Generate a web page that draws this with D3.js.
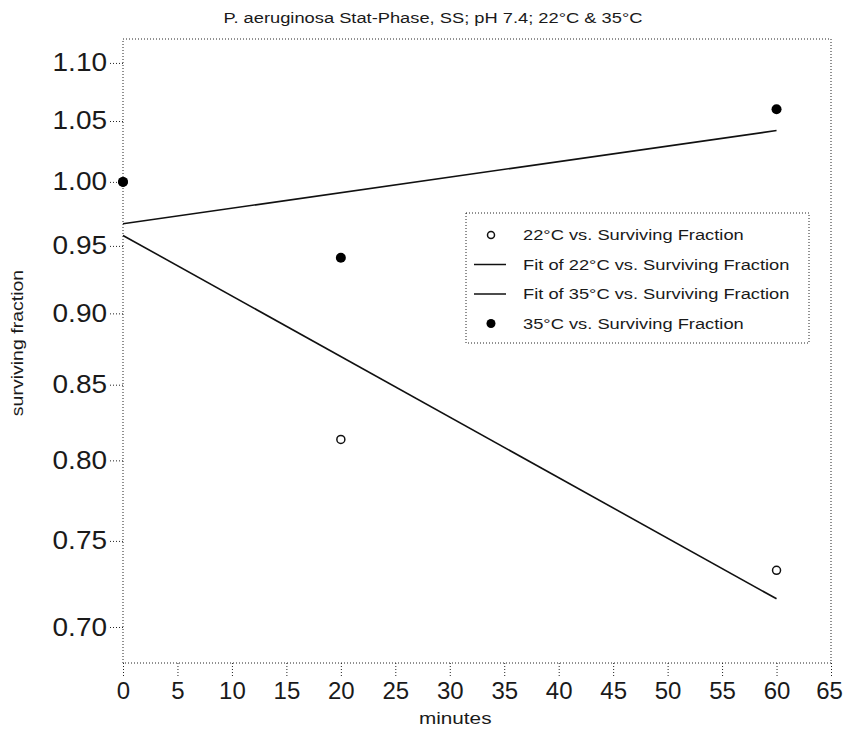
<!DOCTYPE html>
<html>
<head>
<meta charset="utf-8">
<script src="https://cdn.jsdelivr.net/npm/d3@7"></script>
<style>
  body { margin: 0; background: #fff; }
  svg { display: block; font-family: "Liberation Sans", Arial, sans-serif; }
</style>
</head>
<body>
<div id="chart"></div>
<script>
"use strict";

// data
var minutes = [0, 20, 60];
var surv22 = [1.00, 0.8135, 0.7325];
var surv35 = [1.00, 0.941, 1.060];
// fitted lines (exponential fits, straight on the log axis): endpoints
var fit22 = [[0, 0.958], [60, 0.716]];
var fit35 = [[0, 0.967], [60, 1.042]];

var xTicks = d3.range(0, 66, 5);
var yTicks = [0.70, 0.75, 0.80, 0.85, 0.90, 0.95, 1.00, 1.05, 1.10];

var legendItems = [
  { kind: "open", label: "22\u00B0C vs. Surviving Fraction" },
  { kind: "line", label: "Fit of 22\u00B0C vs. Surviving Fraction" },
  { kind: "line", label: "Fit of 35\u00B0C vs. Surviving Fraction" },
  { kind: "filled", label: "35\u00B0C vs. Surviving Fraction" }
];

var WIDTH = 845, HEIGHT = 730;
var margin = { top: 39, right: 14, bottom: 67, left: 123 };
var DOT = "1,2";
var STRETCH = 1.22; // the scanned figure's lettering is wide

var svg = d3.select("#chart").append("svg")
  .attr("width", WIDTH)
  .attr("height", HEIGHT);

var plotW = WIDTH - margin.left - margin.right;
var plotH = HEIGHT - margin.top - margin.bottom;

var x = d3.scaleLinear().domain([0, 65]).range([0, plotW]);
var y = d3.scaleLog().domain([0.6801, 1.1213]).range([plotH, 0]);

var g = svg.append("g").attr("transform", "translate(" + margin.left + "," + margin.top + ")");

// frame (dotted)
g.append("rect")
  .attr("x", 0).attr("y", 0)
  .attr("width", plotW).attr("height", plotH)
  .attr("fill", "none")
  .attr("stroke", "#222")
  .attr("stroke-width", 1)
  .attr("stroke-dasharray", DOT);

// axes
var xAxis = g.append("g")
  .attr("transform", "translate(0," + plotH + ")")
  .call(d3.axisBottom(x).tickValues(xTicks).tickSize(13).tickPadding(6).tickFormat(d3.format("d")));
var yAxis = g.append("g")
  .call(d3.axisLeft(y).tickValues(yTicks).tickSize(13).tickPadding(3).tickFormat(d3.format(".2f")));

[xAxis, yAxis].forEach(function (ax) {
  ax.select(".domain").remove();
  ax.selectAll(".tick line")
    .attr("stroke", "#222")
    .attr("stroke-dasharray", DOT);
});

xAxis.selectAll(".tick text")
  .attr("fill", "#1a1a1a")
  .style("font-size", "24px");
// last label sits against the page edge
xAxis.selectAll(".tick text")
  .filter(function (d) { return d === 65; })
  .attr("x", -2);

// widen y tick labels around their right edge
yAxis.selectAll(".tick text")
  .attr("fill", "#1a1a1a")
  .style("font-size", "25px")
  .each(function () {
    var t = d3.select(this);
    var tx = +t.attr("x");
    t.attr("x", tx / 1.12).attr("transform", "scale(1.12,1)");
  });

// fit lines
var line = d3.line()
  .x(function (d) { return x(d[0]); })
  .y(function (d) { return y(d[1]); });

[fit22, fit35].forEach(function (f) {
  g.append("path")
    .datum(f)
    .attr("d", line)
    .attr("fill", "none")
    .attr("stroke", "#111")
    .attr("stroke-width", 1.6);
});

// data points
g.selectAll("circle.p22")
  .data(minutes.map(function (m, i) { return [m, surv22[i]]; }))
  .enter().append("circle")
  .attr("class", "p22")
  .attr("cx", function (d) { return x(d[0]); })
  .attr("cy", function (d) { return y(d[1]); })
  .attr("r", 4)
  .attr("fill", "#fff")
  .attr("stroke", "#111")
  .attr("stroke-width", 1.5);

g.selectAll("circle.p35")
  .data(minutes.map(function (m, i) { return [m, surv35[i]]; }))
  .enter().append("circle")
  .attr("class", "p35")
  .attr("cx", function (d) { return x(d[0]); })
  .attr("cy", function (d) { return y(d[1]); })
  .attr("r", 5)
  .attr("fill", "#000");

// legend
var lg = svg.append("g").attr("transform", "translate(466,213)");
lg.append("rect")
  .attr("width", 343).attr("height", 130)
  .attr("fill", "#fff")
  .attr("stroke", "#222")
  .attr("stroke-dasharray", DOT);

legendItems.forEach(function (item, i) {
  var cy = 22 + i * 29.5;
  if (item.kind === "open") {
    lg.append("circle").attr("cx", 25).attr("cy", cy).attr("r", 3.5)
      .attr("fill", "#fff").attr("stroke", "#111").attr("stroke-width", 1.5);
  } else if (item.kind === "filled") {
    lg.append("circle").attr("cx", 25).attr("cy", cy).attr("r", 4.5).attr("fill", "#000");
  } else {
    lg.append("line").attr("x1", 8).attr("x2", 40).attr("y1", cy).attr("y2", cy)
      .attr("stroke", "#111").attr("stroke-width", 1.5);
  }
  lg.append("text")
    .attr("transform", "translate(57," + cy + ") scale(" + STRETCH + ",1)")
    .attr("dy", "0.35em")
    .attr("fill", "#1a1a1a")
    .style("font-size", "15px")
    .text(item.label);
});

// title and axis labels
svg.append("text")
  .attr("transform", "translate(433,23) scale(" + STRETCH + ",1)")
  .attr("text-anchor", "middle")
  .attr("fill", "#1a1a1a")
  .style("font-size", "15px")
  .text("P. aeruginosa Stat-Phase, SS; pH 7.4; 22\u00B0C & 35\u00B0C");

svg.append("text")
  .attr("transform", "translate(" + (margin.left + x(30.5)) + ",724) scale(" + STRETCH + ",1)")
  .attr("text-anchor", "middle")
  .attr("fill", "#1a1a1a")
  .style("font-size", "17px")
  .text("minutes");

svg.append("text")
  .attr("transform", "translate(23,343) rotate(-90) scale(" + STRETCH + ",1)")
  .attr("text-anchor", "middle")
  .attr("fill", "#1a1a1a")
  .style("font-size", "16px")
  .text("surviving fraction");
</script>
</body>
</html>
